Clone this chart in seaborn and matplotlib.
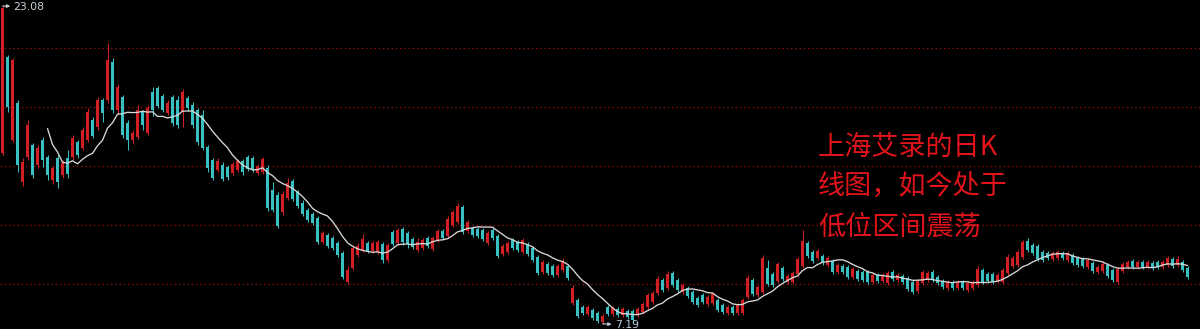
import numpy as np
import pandas as pd
import matplotlib
matplotlib.use("Agg")
import matplotlib.pyplot as plt
import seaborn as sns

# ---- data (daily K-line, prices in CNY) ----
opens = [15.73, 20.53, 16.38, 18.23, 14.28, 15.53, 16.13, 15.13, 16.38, 15.53,
         14.38, 15.48, 14.63, 15.48, 15.53, 16.28, 15.98, 16.38, 17.38, 17.03,
         18.38, 18.38, 20.28, 17.88, 18.53, 17.23, 16.38, 16.53, 17.78, 16.73,
         18.78, 18.98, 18.58, 17.73, 18.53, 18.38, 17.78, 18.48, 18.13, 17.88,
         17.63, 16.03, 15.38, 14.88, 15.13, 15.03, 14.73, 14.88, 15.33, 15.53,
         15.48, 14.73, 14.78, 14.98, 13.88, 13.63, 12.78, 13.48, 14.33, 13.78,
         13.23, 12.88, 12.68, 12.48, 11.28, 11.63, 11.48, 11.23, 10.73, 9.28,
         9.98, 10.63, 10.88, 11.23, 10.83, 10.78, 11.18, 10.38, 11.78, 11.23,
         11.93, 11.73, 11.43, 10.88, 10.98, 11.48, 10.93, 11.38, 11.83, 11.58,
         12.13, 12.28, 13.03, 11.83, 11.98, 11.93, 11.88, 11.23, 11.88, 11.58,
         10.68, 10.78, 11.38, 11.28, 10.78, 11.18, 10.98, 10.53, 9.78, 10.18,
         10.08, 9.63, 9.88, 10.08, 8.23, 8.38, 8.03, 7.68, 7.88, 7.73,
         7.28, 8.03, 7.68, 7.93, 7.63, 7.83, 7.83, 7.63, 7.78, 8.03,
         8.28, 8.73, 9.38, 8.98, 9.73, 9.38, 8.78, 8.98, 8.78, 8.48,
         8.63, 8.18, 8.23, 8.38, 8.13, 7.73, 8.03, 7.73, 7.73, 8.53,
         9.38, 8.63, 8.78, 9.98, 9.68, 9.33, 9.98, 9.28, 9.28, 9.68,
         10.08, 11.23, 10.78, 10.48, 10.58, 10.13, 10.33, 9.78, 10.08, 10.03,
         9.53, 9.83, 9.78, 9.78, 9.28, 9.63, 9.33, 9.23, 9.78, 9.38,
         9.58, 9.48, 9.28, 8.83, 9.23, 9.38, 9.78, 9.53, 9.33, 8.98,
         9.28, 8.98, 9.28, 8.88, 8.98, 9.13, 9.88, 9.68, 9.68, 9.33,
         9.28, 9.73, 10.08, 10.13, 10.53, 11.33, 11.13, 11.08, 10.78, 10.73,
         10.43, 10.48, 10.73, 10.38, 10.63, 10.48, 10.43, 10.03, 10.23, 9.78,
         9.83, 10.13, 9.88, 9.28, 9.83, 10.03, 10.33, 10.03, 10.28, 10.03,
         10.23, 10.28, 10.03, 10.13, 10.43, 10.13, 10.28, 9.98]

closes = [22.98, 18.03, 20.38, 15.13, 15.28, 17.13, 14.63, 15.98, 15.38, 14.63,
          14.98, 14.28, 15.23, 14.68, 16.48, 15.63, 16.88, 17.78, 16.58, 18.38,
          17.73, 20.38, 17.88, 19.03, 16.63, 16.38, 16.73, 17.88, 17.13, 17.98,
          17.88, 18.08, 17.88, 18.23, 17.23, 17.13, 18.78, 17.98, 17.13, 16.28,
          15.98, 14.98, 14.48, 15.33, 14.43, 14.53, 15.18, 15.33, 14.78, 14.93,
          14.88, 15.08, 15.43, 12.98, 12.88, 12.08, 13.68, 14.23, 13.43, 13.08,
          12.68, 12.38, 12.23, 11.28, 11.73, 11.08, 10.98, 10.63, 9.53, 9.88,
          10.98, 11.08, 11.43, 10.83, 11.23, 11.28, 10.38, 11.13, 11.18, 11.88,
          11.28, 11.18, 11.03, 11.28, 11.38, 11.08, 11.48, 11.83, 11.48, 12.43,
          12.78, 13.08, 11.78, 12.28, 11.63, 11.58, 11.43, 11.73, 11.48, 10.58,
          11.08, 11.23, 10.98, 10.88, 11.38, 10.68, 10.38, 9.73, 10.28, 9.73,
          9.63, 10.08, 10.28, 9.48, 8.98, 7.58, 7.73, 8.03, 7.48, 7.33,
          7.58, 7.68, 7.98, 7.63, 7.93, 7.53, 7.38, 7.93, 8.18, 8.63,
          8.73, 9.43, 8.88, 9.68, 9.13, 8.88, 9.13, 8.58, 8.28, 8.13,
          8.28, 8.53, 8.68, 7.88, 7.78, 8.03, 7.73, 8.13, 8.38, 9.48,
          8.68, 9.03, 10.48, 9.18, 9.13, 10.18, 9.43, 9.58, 9.73, 10.43,
          11.33, 10.58, 10.33, 10.83, 10.23, 10.48, 9.78, 10.13, 9.78, 9.53,
          9.93, 9.43, 9.38, 9.28, 9.63, 9.33, 9.63, 9.73, 9.43, 9.63,
          9.28, 8.93, 8.78, 9.33, 9.78, 9.73, 9.38, 9.23, 9.03, 9.28,
          8.98, 9.28, 8.98, 9.23, 9.28, 9.93, 9.28, 9.33, 9.28, 9.63,
          9.88, 10.53, 10.48, 10.78, 11.28, 10.88, 10.73, 10.43, 10.38, 10.48,
          10.73, 10.78, 10.48, 10.73, 10.23, 10.13, 10.08, 10.38, 9.83, 10.03,
          10.18, 9.58, 9.38, 9.93, 10.18, 10.28, 10.03, 10.28, 10.03, 10.28,
          9.98, 10.03, 10.28, 10.48, 10.08, 10.43, 9.88, 9.53]

highs = [23.08, 20.63, 20.48, 18.38, 15.48, 17.38, 16.23, 16.13, 16.53, 15.63,
         15.08, 15.63, 15.38, 15.88, 16.63, 16.38, 17.03, 17.98, 17.53, 18.53,
         18.48, 21.23, 20.48, 19.18, 18.63, 17.38, 16.88, 18.13, 17.88, 18.13,
         19.03, 19.08, 18.68, 18.38, 18.63, 18.58, 18.93, 18.58, 18.28, 17.98,
         17.88, 16.13, 15.48, 15.48, 15.28, 15.13, 15.28, 15.43, 15.43, 15.63,
         15.58, 15.18, 15.53, 15.13, 14.28, 13.78, 13.83, 14.48, 14.43, 13.88,
         13.38, 12.98, 12.78, 12.58, 11.83, 11.73, 11.58, 11.33, 10.83, 10.08,
         11.08, 11.23, 11.68, 11.33, 11.33, 11.38, 11.28, 11.23, 11.88, 11.98,
         12.03, 11.83, 11.53, 11.48, 11.48, 11.58, 11.58, 11.93, 11.93, 12.58,
         12.88, 13.23, 13.13, 12.38, 12.08, 12.03, 11.98, 11.83, 11.98, 11.68,
         11.18, 11.33, 11.48, 11.38, 11.48, 11.28, 11.08, 10.63, 10.38, 10.28,
         10.18, 10.18, 10.48, 10.18, 9.13, 8.48, 8.13, 8.13, 7.98, 7.83,
         7.68, 8.13, 8.08, 8.03, 8.03, 7.93, 7.93, 8.03, 8.28, 8.73,
         8.83, 9.58, 9.48, 9.83, 9.83, 9.48, 9.23, 9.08, 8.88, 8.58,
         8.73, 8.63, 8.78, 8.48, 8.23, 8.13, 8.13, 8.23, 8.48, 9.63,
         9.48, 9.13, 10.63, 10.38, 9.78, 10.28, 10.08, 9.68, 9.83, 10.53,
         11.88, 11.33, 10.88, 10.93, 10.68, 10.58, 10.43, 10.23, 10.18, 10.13,
         10.03, 9.93, 9.88, 9.88, 9.73, 9.73, 9.73, 9.83, 9.88, 9.73,
         9.68, 9.58, 9.38, 9.43, 9.88, 9.83, 9.88, 9.63, 9.43, 9.38,
         9.38, 9.38, 9.38, 9.33, 9.38, 10.08, 9.98, 9.78, 9.78, 9.73,
         9.98, 10.68, 10.58, 10.88, 11.38, 11.48, 11.23, 11.18, 10.88, 10.83,
         10.83, 10.88, 10.83, 10.83, 10.73, 10.58, 10.53, 10.48, 10.33, 10.13,
         10.28, 10.23, 9.98, 10.03, 10.28, 10.38, 10.43, 10.38, 10.38, 10.38,
         10.33, 10.38, 10.38, 10.58, 10.53, 10.58, 10.38, 10.08]

lows = [15.63, 17.78, 16.28, 14.78, 14.08, 15.38, 14.48, 14.98, 15.03, 14.38,
        14.18, 13.98, 14.48, 14.48, 15.38, 15.48, 15.88, 16.28, 16.48, 16.88,
        17.28, 18.23, 17.73, 17.68, 16.48, 15.88, 16.23, 16.43, 16.88, 16.63,
        17.58, 17.98, 17.78, 17.63, 17.08, 16.98, 17.03, 17.83, 16.98, 16.13,
        15.88, 14.78, 14.38, 14.78, 14.33, 14.38, 14.63, 14.78, 14.63, 14.83,
        14.78, 14.63, 14.68, 12.83, 12.78, 11.98, 12.63, 13.38, 13.33, 12.98,
        12.58, 12.28, 12.13, 11.18, 11.18, 10.98, 10.88, 10.53, 9.43, 9.18,
        9.88, 10.53, 10.78, 10.73, 10.73, 10.68, 10.23, 10.28, 11.08, 11.13,
        11.13, 10.98, 10.93, 10.78, 10.88, 10.98, 10.83, 11.28, 11.38, 11.48,
        12.03, 12.18, 11.68, 11.73, 11.53, 11.48, 11.33, 11.13, 11.38, 10.48,
        10.58, 10.68, 10.88, 10.78, 10.68, 10.58, 10.28, 9.63, 9.68, 9.63,
        9.53, 9.53, 9.78, 9.38, 8.13, 7.48, 7.63, 7.58, 7.38, 7.23,
        7.19, 7.58, 7.58, 7.53, 7.53, 7.43, 7.23, 7.53, 7.68, 7.93,
        8.18, 8.63, 8.78, 8.88, 9.03, 8.78, 8.68, 8.48, 8.18, 8.03,
        8.18, 8.08, 8.13, 7.78, 7.68, 7.63, 7.63, 7.63, 7.63, 8.43,
        8.58, 8.53, 8.68, 9.08, 9.03, 9.23, 9.33, 9.18, 9.18, 9.58,
        9.98, 10.48, 10.23, 10.38, 10.13, 10.03, 9.68, 9.68, 9.68, 9.43,
        9.43, 9.33, 9.28, 9.18, 9.18, 9.23, 9.23, 9.13, 9.33, 9.28,
        9.18, 8.83, 8.68, 8.73, 9.13, 9.28, 9.28, 9.13, 8.93, 8.88,
        8.88, 8.88, 8.88, 8.78, 8.88, 9.03, 9.18, 9.23, 9.18, 9.23,
        9.18, 9.63, 9.98, 10.03, 10.43, 10.78, 10.63, 10.33, 10.28, 10.38,
        10.33, 10.38, 10.38, 10.28, 10.13, 10.03, 9.98, 9.93, 9.73, 9.68,
        9.73, 9.48, 9.28, 9.18, 9.73, 9.93, 9.93, 9.93, 9.93, 9.93,
        9.88, 9.93, 9.93, 10.03, 9.98, 10.03, 9.78, 9.43]

grid_levels = [20.98, 18.03, 15.08, 12.13, 9.18]
note_lines = ["上海艾录的日K", "线图，如今处于", "低位区间震荡"]
ma_window = 10

# ---- build frame ----
n = min(len(opens), len(closes), len(highs), len(lows))
df = pd.DataFrame({"o": opens[:n], "c": closes[:n], "h": highs[:n], "l": lows[:n]})
df["i"] = np.arange(n)
df["ma"] = df["c"].rolling(ma_window).mean()

sns.set_theme(style="dark")
plt.rcParams["font.family"] = ["Noto Sans CJK SC", "DejaVu Sans"]

fig = plt.figure(figsize=(12, 3.29), dpi=100, facecolor="black")
ax = fig.add_axes([0, 0, 1, 1])
ax.set_facecolor("black")

UP = "#d21f24"
DOWN = "#38c0c2"
up = df["c"] >= df["o"]
colors = np.where(up, UP, DOWN)

# grid lines (dark red dotted)
ax.set_yticks(grid_levels)
ax.set_xticks([])
ax.grid(axis="y", color="#8e0d0d", linestyle=(0, (1.2, 2.2)), linewidth=0.9)
ax.grid(axis="x", visible=False)

# wicks
ax.vlines(df["i"], df["l"], df["h"], colors=colors, linewidth=0.75, zorder=2)
# bodies
body_h = (df["c"] - df["o"]).abs().clip(lower=0.03)
body_b = df[["o", "c"]].min(axis=1)
ax.bar(df["i"], body_h, bottom=body_b, width=0.45, color=colors,
       linewidth=0, zorder=3)

# moving average
sns.lineplot(x=df["i"], y=df["ma"], ax=ax, color="#d8d8d8", linewidth=0.95,
             zorder=4)

ax.set_xlim(-0.5, 239.5)
ax.set_ylim(6.93, 23.38)
ax.set_xlabel("")
ax.set_ylabel("")
ax.tick_params(left=False, bottom=False, labelleft=False, labelbottom=False)
for s in ax.spines.values():
    s.set_visible(False)

# max / min markers
imax = int(df["h"].idxmax())
imin = int(df["l"].idxmin())
ax.annotate(f"{df['h'].max():.2f}", xy=(imax, df["h"].max()),
            xytext=(8, -0.5), textcoords="offset points", ha="left", va="center",
            fontsize=7.8, color="#c8d0d8", family="DejaVu Sans",
            arrowprops=dict(arrowstyle="<|-,head_length=0.25,head_width=0.12",
                            color="#c8d0d8", lw=0.8, shrinkA=0, shrinkB=0))
ax.annotate(f"{df['l'].min():.2f}", xy=(imin, df["l"].min()),
            xytext=(9, -1), textcoords="offset points", ha="left", va="center",
            fontsize=7.8, color="#b8c8d8", family="DejaVu Sans",
            arrowprops=dict(arrowstyle="<|-,head_length=0.25,head_width=0.12",
                            color="#b8c8d8", lw=0.8, shrinkA=0, shrinkB=0))

# annotation text
ys = [1 - 147 / 329, 1 - 187 / 329, 1 - 227 / 329]
for t, yy in zip(note_lines, ys):
    ax.text(818 / 1200, yy, t, transform=ax.transAxes, ha="left", va="center",
            fontsize=19.5, color="#e0141a",
            family=["Noto Sans CJK SC", "DejaVu Sans"])

fig.savefig("out.png", dpi=100, facecolor="black")
